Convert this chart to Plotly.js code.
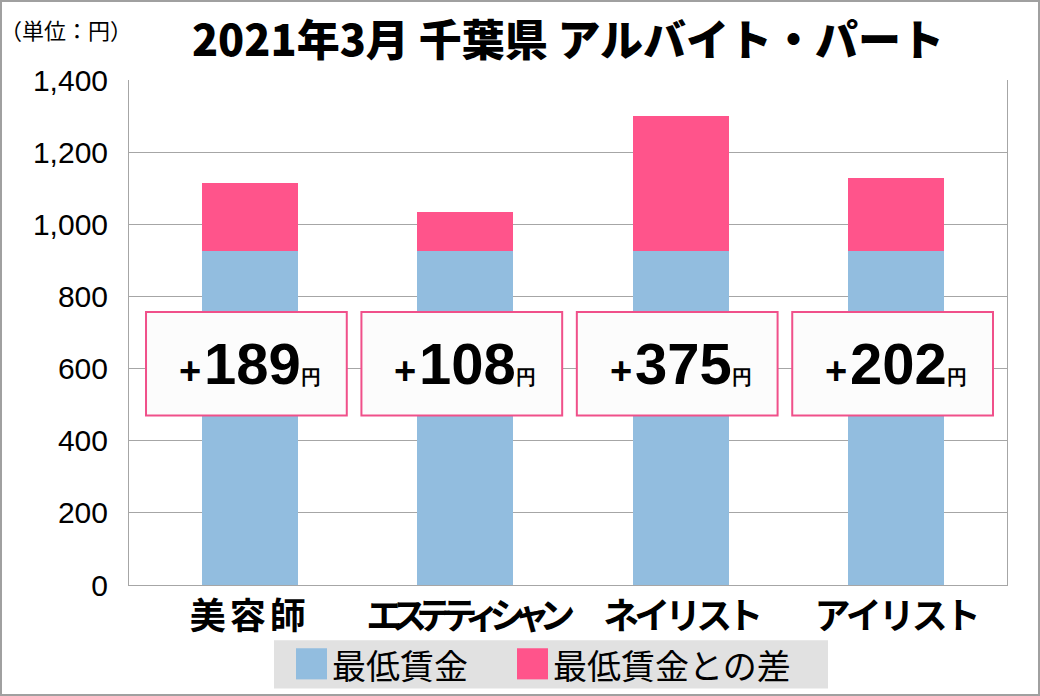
<!DOCTYPE html>
<html><head><meta charset="utf-8">
<script src="https://cdn.plot.ly/plotly-3.0.1.min.js"></script>
<style>
html,body{margin:0;padding:0;background:#fff;}
#wrap{position:relative;width:1040px;height:696px;}
#chart{width:1040px;height:696px;}
#frame{position:absolute;left:0;top:0;width:1036px;height:692px;border:2px solid #a0a0a0;pointer-events:none;}
</style></head>
<body>
<div id="wrap"><div id="chart"></div><div id="frame"></div></div>
<script>
const categories = ["美容師", "エステティシャン", "ネイリスト", "アイリスト"];
const minimumWage = [925, 925, 925, 925];
const differenceFromMinimum = [189, 108, 375, 202];
const seriesNames = ["最低賃金", "最低賃金との差"];
const yTickValues = [0, 200, 400, 600, 800, 1000, 1200, 1400];
const titleText = "2021年3月 千葉県 アルバイト・パート";
const unitText = "（単位：円）";

const blue = "#92bddf";
const pink = "#ff548b";
const jp = "'Noto Sans CJK JP', 'Noto Sans', sans-serif";

const labelSpacing = [4, -11, -5, -3];
const tickText = categories.map((c, i) =>
  '<span style="letter-spacing:' + labelSpacing[i] + 'px">' + c + '</span>');

const traces = [
  {type: "bar", x: categories, y: minimumWage, name: seriesNames[0],
   marker: {color: blue}, hoverinfo: "none", showlegend: false},
  {type: "bar", x: categories, y: differenceFromMinimum, name: seriesNames[1],
   marker: {color: pink}, hoverinfo: "none", showlegend: false}
];

const shapes = [];
const annotations = [];
categories.forEach((c, i) => {
  shapes.push({type: "rect", xref: "x", yref: "y", x0: i - 0.482, x1: i + 0.45,
    y0: 470, y1: 757, fillcolor: "#fcfcfc", line: {color: "#f0508a", width: 2}, layer: "above"});
  annotations.push({xref: "x", yref: "y", x: i, y: 613, showarrow: false,
    xanchor: "center", yanchor: "middle",
    text: '<b><span style="font-size:38px">+</span><span style="font-size:10px"> </span><span style="font-size:58px">' +
      differenceFromMinimum[i] + '</span><span style="font-size:20px">円</span></b>',
    font: {family: "'Liberation Sans', Arial, sans-serif", color: "#000", size: 58}});
});

// custom legend
shapes.push({type: "rect", xref: "paper", yref: "paper",
  x0: (274 - 129) / 878, x1: (828 - 129) / 878, y0: -(688 - 585) / 503, y1: -(640 - 585) / 503,
  fillcolor: "#e1e1e1", line: {width: 0}, layer: "below"});
shapes.push({type: "rect", xref: "paper", yref: "paper",
  x0: (296 - 129) / 878, x1: (327 - 129) / 878, y0: -(679 - 585) / 503, y1: -(648 - 585) / 503,
  fillcolor: blue, line: {width: 0}});
shapes.push({type: "rect", xref: "paper", yref: "paper",
  x0: (517 - 129) / 878, x1: (548 - 129) / 878, y0: -(679 - 585) / 503, y1: -(648 - 585) / 503,
  fillcolor: pink, line: {width: 0}});
annotations.push({xref: "paper", yref: "paper", x: (330 - 129) / 878, y: -(664 - 585) / 503,
  xanchor: "left", yanchor: "middle", showarrow: false, text: seriesNames[0],
  font: {family: jp, size: 34, color: "#000"}});
annotations.push({xref: "paper", yref: "paper", x: (551 - 129) / 878, y: -(664 - 585) / 503,
  xanchor: "left", yanchor: "middle", showarrow: false, text: seriesNames[1],
  font: {family: jp, size: 34, color: "#000"}});
annotations.push({xref: "paper", yref: "paper", x: (66 - 129) / 878, y: 1 + (80 - 29) / 503,
  xanchor: "center", yanchor: "middle", showarrow: false, text: unitText,
  font: {family: jp, size: 22, color: "#000"}});

const layout = {
  width: 1040, height: 696,
  margin: {l: 129, r: 33, t: 80, b: 111},
  paper_bgcolor: "#fff", plot_bgcolor: "#fff",
  barmode: "stack", bargap: 0.555,
  showlegend: false,
  title: {text: titleText, xref: "container", yref: "container",
    x: 568 / 1040, y: 1 - 41 / 696, xanchor: "center", yanchor: "middle",
    font: {family: jp, size: 43, color: "#000", weight: 900}},
  xaxis: {type: "category", tickvals: categories, ticktext: tickText,
    range: [-0.561, 3.515],
    showline: true, linecolor: "#a6a6a6", linewidth: 1, ticks: "",
    tickfont: {family: jp, size: 36, color: "#000", weight: "bold"},
    showgrid: false, fixedrange: true},
  yaxis: {range: [0, 1400], tickvals: yTickValues, tickformat: ",",
    showgrid: true, gridcolor: "#a6a6a6", gridwidth: 1,
    showline: true, linecolor: "#a6a6a6", linewidth: 1, mirror: true,
    ticks: "", ticklabelstandoff: 14,
    tickfont: {family: "'Liberation Sans', Arial, sans-serif", size: 30, color: "#000"},
    zeroline: false, fixedrange: true},
  shapes: shapes,
  annotations: annotations
};

Plotly.newPlot("chart", traces, layout, {displayModeBar: false, staticPlot: true});
</script>
</body></html>
